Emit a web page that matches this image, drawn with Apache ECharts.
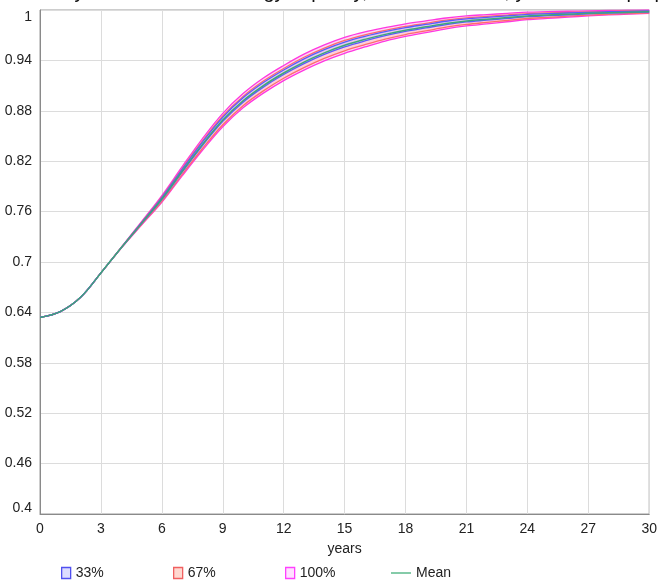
<!DOCTYPE html>
<html>
<head>
<meta charset="utf-8">
<script src="https://cdn.jsdelivr.net/npm/echarts@6/dist/echarts.min.js"></script>
<style>
html,body{margin:0;padding:0;background:#fff;}
#chart{width:660px;height:584px;}
</style>
</head>
<body>
<div id="chart"></div>
<script>
var titleText = 'Sensitivity of Scenario G: energy capacity, fraction of time, years to ramp up';
var years = ['0','1','2','3','4','5','6','7','8','9','10','11','12','13','14','15','16','17','18','19','20','21','22','23','24','25','26','27','28','29','30'];
var yTicks = [0.4,0.46,0.52,0.58,0.64,0.7,0.76,0.82,0.88,0.94,1];

var meanVals = [0.634,0.641,0.658,0.687,0.717,0.746,0.775,0.808,0.840,0.869,0.892,0.910,0.925,0.938,0.949,0.958,0.965,0.971,0.976,0.980,0.984,0.987,0.989,0.991,0.993,0.994,0.995,0.996,0.9968,0.9974,0.998];

var hi100 = [0.634,0.641,0.658,0.687,0.7175,0.748,0.779,0.8135,0.847,0.877,0.9005,0.919,0.934,0.9475,0.9585,0.9675,0.974,0.979,0.9835,0.987,0.9905,0.993,0.9945,0.996,0.9975,0.998,0.9985,0.999,0.9995,0.9998,1.000];
var lo100 = [0.634,0.641,0.658,0.687,0.7165,0.744,0.771,0.8025,0.833,0.861,0.8835,0.901,0.916,0.9285,0.9395,0.9485,0.956,0.963,0.9685,0.973,0.9775,0.981,0.9835,0.986,0.9885,0.990,0.9915,0.993,0.9941,0.995,0.996];

var hi67 = [0.634,0.641,0.658,0.687,0.7173,0.7472,0.7774,0.8113,0.8442,0.8738,0.8971,0.9154,0.9304,0.9437,0.9547,0.9637,0.9704,0.9758,0.9805,0.9842,0.9879,0.9906,0.9923,0.994,0.9957,0.9964,0.9971,0.9978,0.9984,0.9988,0.9992];
var lo67 = [0.634,0.641,0.658,0.687,0.7167,0.7446,0.7722,0.8042,0.8351,0.8634,0.8861,0.9037,0.9187,0.9314,0.9424,0.9514,0.9587,0.9654,0.9708,0.9751,0.9795,0.9828,0.9852,0.9875,0.9899,0.9912,0.9926,0.9939,0.9949,0.9957,0.9966];

var hi33 = [0.634,0.641,0.658,0.687,0.7172,0.7468,0.7766,0.8102,0.8428,0.8722,0.8954,0.9136,0.9286,0.9418,0.9528,0.9618,0.9686,0.9742,0.979,0.9828,0.9866,0.9894,0.9912,0.993,0.9948,0.9956,0.9964,0.9972,0.9979,0.9984,0.9988];
var lo33 = [0.634,0.641,0.658,0.687,0.7169,0.7456,0.7742,0.8069,0.8386,0.8674,0.8903,0.9082,0.9232,0.9361,0.9471,0.9561,0.9632,0.9694,0.9745,0.9786,0.9827,0.9858,0.9879,0.99,0.9921,0.9932,0.9943,0.9954,0.9963,0.997,0.9976];

var FONT = 'Liberation Sans, Arial, sans-serif';

function bandSeries(name, lo, hi, edge, fill, op) {
  return [
    {
      name: name + ' low', type: 'line', stack: name, smooth: 0.35, symbol: 'none', silent: true,
      data: lo.slice(),
      lineStyle: { color: edge, width: 1.3 }, itemStyle: { color: edge }
    },
    {
      name: name, type: 'line', stack: name, smooth: 0.35, symbol: 'none', silent: true,
      data: hi.map(function (h, i) { return +(h - lo[i]).toFixed(6); }),
      lineStyle: { color: edge, width: 1.3 },
      itemStyle: { color: fill, borderColor: edge },
      areaStyle: { color: fill, opacity: op }
    }
  ];
}

var series = []
  .concat(bandSeries('100%', lo100, hi100, '#ff38e0', '#ffb8f0', 0.6))
  .concat(bandSeries('67%', lo67, hi67, '#ff6b6b', '#ffc8c0', 0.55))
  .concat(bandSeries('33%', lo33, hi33, '#5a5aff', '#c8c8ff', 0.55));
series.push({
  name: 'Mean', type: 'line', smooth: 0.35, symbol: 'none', silent: true,
  data: meanVals.slice(),
  lineStyle: { color: '#3fa776', width: 1.5 }, itemStyle: { color: '#3fa776' }
});

function legendAt(name, left, edge, fill) {
  var item = { name: name };
  var lg = {
    left: left, top: 561, orient: 'horizontal', selectedMode: false,
    itemGap: 0, textStyle: { fontFamily: FONT, fontSize: 14, color: '#222' },
    data: [item]
  };
  if (edge) {
    item.icon = 'rect';
    item.itemStyle = { color: fill, borderColor: edge, borderWidth: 1.3 };
    lg.itemWidth = 9; lg.itemHeight = 11;
  } else {
    item.icon = 'rect';
    item.itemStyle = { color: '#5dba8c', borderWidth: 0 };
    lg.itemWidth = 20; lg.itemHeight = 1.5;
  }
  return lg;
}

var chart = echarts.init(document.getElementById('chart'), null, { renderer: 'canvas' });
chart.setOption({
  animation: false,
  backgroundColor: '#fff',
  title: {
    text: titleText, left: 'center', top: -23,
    textStyle: { fontFamily: FONT, fontSize: 20, fontWeight: 'normal', color: '#111' }
  },
  grid: { left: 40, right: 6, top: 10, bottom: 70, show: true, borderColor: '#9a9a9a', borderWidth: 1 },
  legend: [
    legendAt('33%', 56, '#5050f0', '#dcdcff'),
    legendAt('67%', 168, '#f06060', '#ffd8d0'),
    legendAt('100%', 280, '#ff40ff', '#ffe0ff'),
    legendAt('Mean', 386)
  ],
  xAxis: {
    type: 'category', data: years, boundaryGap: false,
    name: 'years', nameLocation: 'middle', nameGap: 28,
    nameTextStyle: { fontFamily: FONT, fontSize: 14, color: '#222' },
    axisLine: { show: true, lineStyle: { color: '#8a8a8a' } },
    axisTick: { show: false },
    axisLabel: { fontFamily: FONT, fontSize: 14, color: '#222', margin: 8, interval: 2, showMaxLabel: true },
    splitLine: { show: true, interval: 2, lineStyle: { color: '#dcdcdc', width: 1 } }
  },
  yAxis: {
    type: 'value', min: yTicks[0], max: yTicks[yTicks.length - 1], interval: 0.06,
    axisLine: { show: true, lineStyle: { color: '#8a8a8a' } },
    axisTick: { show: false },
    axisLabel: {
      fontFamily: FONT, fontSize: 14, color: '#222', margin: 8,
      formatter: function (v) {
        var s = String(+v.toFixed(2));
        if (Math.abs(v - 1) < 1e-6) return '{t|' + s + '}';
        if (Math.abs(v - 0.4) < 1e-6) return '{b|' + s + '}';
        return s;
      },
      rich: {
        t: { fontFamily: FONT, fontSize: 14, color: '#222', padding: [14, 0, 0, 0] },
        b: { fontFamily: FONT, fontSize: 14, color: '#222', padding: [0, 0, 12, 0] }
      }
    },
    splitLine: { show: true, lineStyle: { color: '#dcdcdc', width: 1 } }
  },
  series: series
});
</script>
</body>
</html>
